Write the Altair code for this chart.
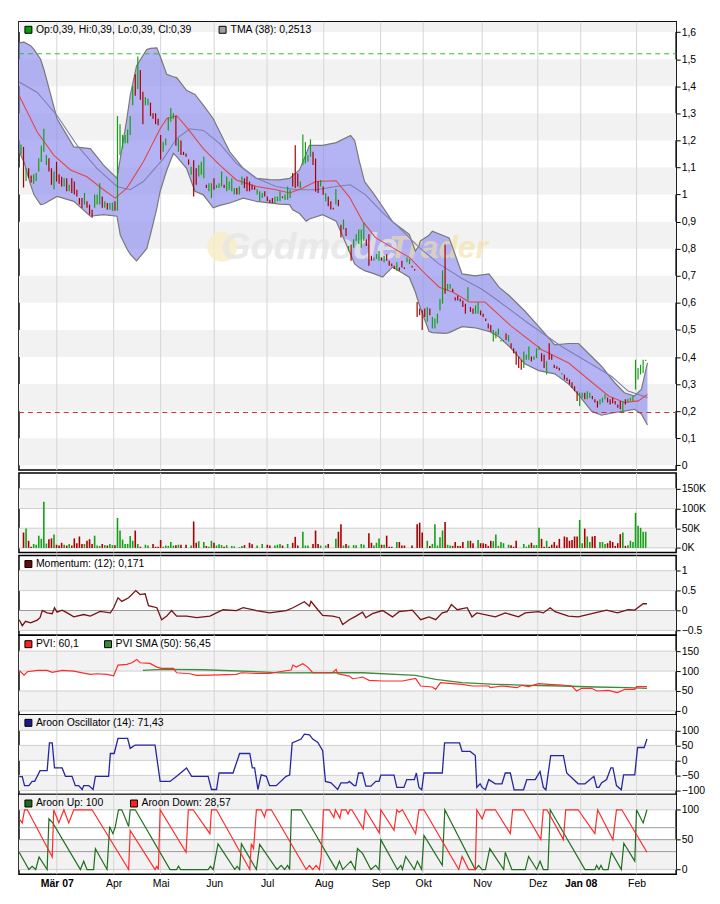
import altair as alt
import pandas as pd

# ---------------- data ----------------
MONTH_IDX = [14.1, 36.5, 55.0, 76.1, 96.9, 119.2, 141.6, 158.4, 181.6, 203.5, 220.4, 242.4]
MONTH_LBL = ["Mär 07", "Apr", "Mai", "Jun", "Jul", "Aug", "Sep", "Okt", "Nov", "Dez", "Jan 08", "Feb"]

LO = [
    1.150, 1.026, 1.050, 1.060, 1.045, 1.040, 1.050, 1.085, 1.120, 1.158,
    1.109, 1.085, 1.036, 1.020, 1.048, 1.040, 1.030, 1.030, 1.012, 1.012,
    1.006, 1.000, 0.993, 0.963, 0.950, 0.963, 0.951, 0.926, 0.914, 0.951,
    0.963, 0.963, 0.951, 0.951, 0.944, 0.944, 0.940, 0.940, 0.940, 1.146,
    1.170, 1.190, 1.190, 1.220, 1.330, 1.365, 1.390, 1.350, 1.260, 1.330,
    1.330, 1.290, 1.280, 1.260, 1.256, 1.130, 1.158, 1.182, 1.237, 1.270,
    1.280, 1.180, 1.158, 1.146, 1.146, 1.140, 1.110, 1.073, 0.993, 1.036,
    1.067, 1.073, 1.060, 1.024, 1.012, 0.987, 1.018, 1.024, 1.024, 1.030,
    1.024, 1.012, 1.018, 1.012, 1.000, 1.000, 1.000, 1.036, 1.024, 1.012,
    1.012, 1.018, 1.018, 1.000, 0.975, 0.987, 0.993, 0.975, 0.969, 0.969,
    0.969, 0.975, 0.975, 0.987, 0.980, 0.981, 0.987, 1.030, 1.024, 1.030,
    1.024, 1.109, 1.115, 1.121, 1.140, 1.109, 1.011, 1.006, 1.030, 0.999,
    0.975, 0.957, 0.945, 0.945, 0.963, 0.957, 0.841, 0.871, 0.847, 0.792,
    0.756, 0.804, 0.829, 0.817, 0.804, 0.829, 0.810, 0.737, 0.756, 0.756,
    0.762, 0.756, 0.756, 0.750, 0.756, 0.737, 0.735, 0.725, 0.719, 0.719,
    0.731, 0.725, 0.750, 0.743, 0.731, 0.719, 0.548, 0.554, 0.500, 0.548,
    0.530, 0.554, 0.505, 0.505, 0.524, 0.572, 0.597, 0.634, 0.646, 0.652,
    0.640, 0.609, 0.609, 0.605, 0.585, 0.560, 0.609, 0.567, 0.560, 0.560,
    0.560, 0.554, 0.548, 0.533, 0.505, 0.493, 0.457, 0.469, 0.481, 0.457,
    0.457, 0.463, 0.457, 0.432, 0.414, 0.371, 0.359, 0.353, 0.359, 0.390,
    0.390, 0.384, 0.390, 0.396, 0.426, 0.384, 0.359, 0.335, 0.390, 0.390,
    0.359, 0.356, 0.350, 0.335, 0.317, 0.311, 0.298, 0.286, 0.274, 0.238,
    0.219, 0.250, 0.244, 0.244, 0.250, 0.244, 0.232, 0.213, 0.225, 0.232,
    0.244, 0.232, 0.225, 0.229, 0.225, 0.213, 0.207, 0.195, 0.225, 0.232,
    0.238, 0.238, 0.280, 0.317, 0.335, 0.341, 0.385]

HI = [
    1.185, 1.176, 1.097, 1.097, 1.070, 1.075, 1.080, 1.134, 1.180, 1.243,
    1.146, 1.134, 1.097, 1.085, 1.121, 1.075, 1.066, 1.060, 1.060, 1.036,
    1.060, 1.048, 1.018, 0.987, 0.987, 1.006, 0.975, 0.963, 0.944, 1.000,
    1.000, 1.042, 0.993, 0.975, 0.969, 0.969, 0.970, 0.975, 1.290, 1.260,
    1.220, 1.220, 1.240, 1.290, 1.400, 1.444, 1.510, 1.460, 1.380, 1.360,
    1.355, 1.340, 1.300, 1.300, 1.280, 1.220, 1.195, 1.207, 1.285, 1.320,
    1.300, 1.290, 1.207, 1.200, 1.158, 1.152, 1.130, 1.103, 1.127, 1.097,
    1.109, 1.121, 1.140, 1.036, 1.042, 1.042, 1.060, 1.036, 1.042, 1.085,
    1.036, 1.067, 1.048, 1.060, 1.024, 1.024, 1.030, 1.067, 1.060, 1.067,
    1.048, 1.036, 1.030, 1.020, 1.012, 1.006, 1.012, 0.993, 0.981, 0.987,
    0.993, 0.993, 1.012, 0.993, 1.000, 1.030, 1.018, 1.080, 1.182, 1.078,
    1.048, 1.222, 1.194, 1.146, 1.204, 1.158, 1.133, 1.048, 1.054, 1.030,
    1.005, 0.993, 0.975, 0.951, 1.021, 0.981, 0.889, 0.908, 0.877, 0.810,
    0.816, 0.835, 0.853, 0.871, 0.871, 0.896, 0.835, 0.853, 0.774, 0.768,
    0.780, 0.792, 0.768, 0.774, 0.780, 0.756, 0.745, 0.737, 0.750, 0.731,
    0.756, 0.731, 0.768, 0.762, 0.737, 0.725, 0.603, 0.579, 0.573, 0.579,
    0.585, 0.579, 0.548, 0.542, 0.560, 0.615, 0.720, 0.816, 0.670, 0.670,
    0.652, 0.621, 0.627, 0.615, 0.609, 0.597, 0.658, 0.585, 0.579, 0.591,
    0.603, 0.572, 0.560, 0.542, 0.524, 0.518, 0.500, 0.493, 0.505, 0.463,
    0.463, 0.487, 0.481, 0.451, 0.432, 0.420, 0.402, 0.390, 0.420, 0.408,
    0.439, 0.402, 0.402, 0.432, 0.439, 0.414, 0.408, 0.384, 0.451, 0.408,
    0.371, 0.366, 0.360, 0.341, 0.335, 0.323, 0.317, 0.307, 0.292, 0.274,
    0.268, 0.268, 0.268, 0.274, 0.268, 0.256, 0.244, 0.238, 0.244, 0.250,
    0.262, 0.250, 0.244, 0.250, 0.238, 0.225, 0.238, 0.238, 0.244, 0.246,
    0.250, 0.256, 0.390, 0.359, 0.371, 0.390, 0.390]

DIR = "".join([
    "ududduuuuu", "uddudddudu", "dddddudddu", "uududuuduu", "uuuuududdu",
    "uddddduuuu", "ududdddudd", "uuuduuduuu", "duuuuduudd", "ddduuudddd",
    "uuuduuuddd", "uuuuudddud", "uddduddudu", "duuuuudddu", "uududdddud",
    "dduudddddd", "uduuuuuduu", "dddddduddu", "uddddduuuu", "ududdddduu",
    "uduuuddudd", "dddudddddd", "uuduuddduu", "uddddddudu", "uuuuuuu"])

VOL = [
    0, 39, 49, 18, 3, 10, 8, 31, 23, 117,
    11, 22, 24, 34, 8, 6, 13, 8, 6, 10,
    6, 24, 12, 29, 10, 10, 18, 22, 10, 31,
    6, 5, 10, 7, 6, 10, 7, 7, 76, 44,
    21, 10, 10, 30, 18, 44, 10, 3, 0, 8,
    6, 0, 10, 3, 3, 20, 3, 6, 5, 15,
    6, 7, 8, 8, 0, 8, 0, 6, 67, 13,
    17, 0, 15, 5, 3, 18, 13, 6, 9, 7,
    3, 7, 0, 5, 4, 0, 2, 5, 7, 0,
    13, 9, 0, 6, 0, 10, 0, 8, 6, 0,
    6, 8, 10, 6, 0, 10, 0, 13, 28, 6,
    0, 41, 6, 6, 0, 10, 44, 10, 6, 0,
    6, 10, 0, 0, 23, 41, 60, 6, 10, 6,
    0, 7, 7, 0, 10, 8, 0, 37, 13, 6,
    13, 24, 8, 8, 31, 3, 3, 0, 15, 15,
    6, 6, 0, 0, 6, 0, 60, 64, 39, 0,
    18, 5, 10, 60, 6, 27, 44, 66, 8, 6,
    5, 15, 5, 5, 15, 0, 18, 18, 12, 0,
    20, 12, 12, 10, 5, 18, 17, 34, 5, 15,
    12, 0, 8, 7, 3, 18, 0, 0, 10, 3,
    8, 13, 7, 7, 51, 23, 3, 18, 3, 8,
    15, 6, 23, 0, 29, 27, 18, 20, 29, 29,
    71, 12, 49, 29, 15, 29, 30, 0, 15, 15,
    10, 12, 18, 15, 5, 12, 35, 39, 5, 7,
    18, 15, 89, 56, 51, 41, 41]

BAND_IDX = [-0.8, 1.2, 3.8, 5.1, 7.7, 9.0, 14.2, 20.8, 27.3, 32.5, 37.8, 39.1, 41.7, 43.0, 45.5,
            49.5, 51.0, 53.5, 54.8, 57.4, 60.0, 61.3, 65.2, 68.5, 71.8, 75.7, 78.3, 82.2, 87.5,
            92.7, 97.9, 101.8, 105.8, 107.0, 109.7, 112.3, 113.6, 118.8, 124.1, 129.8, 131.4,
            133.3, 135.3, 139.2, 142.4, 146.3, 150.2, 152.9, 155.3, 156.7, 157.3, 160.7, 162.0,
            167.2, 168.6, 173.7, 178.8, 184.3, 188.2, 192.2, 198.4, 203.9, 210.2, 215.7, 219.6,
            224.7, 228.6, 233.8, 237.6, 241.6, 244.3, 246.7]
BAND_UP = [1.56, 1.563, 1.55, 1.536, 1.50, 1.463, 1.28, 1.176, 1.17, 1.109, 1.06, 1.133, 1.28,
           1.365, 1.475, 1.536, 1.54, 1.542, 1.511, 1.444, 1.435, 1.432, 1.385, 1.37, 1.33, 1.28,
           1.231, 1.158, 1.097, 1.06, 1.055, 1.054, 1.06, 1.07, 1.091, 1.15, 1.182, 1.182, 1.192,
           1.218, 1.2, 1.121, 1.048, 0.999, 0.955, 0.90, 0.872, 0.853, 0.792, 0.81, 0.829, 0.85,
           0.865, 0.845, 0.84, 0.707, 0.70, 0.707, 0.658, 0.627, 0.57, 0.512, 0.445, 0.45, 0.45,
           0.402, 0.366, 0.305, 0.268, 0.256, 0.28, 0.378]
BAND_LO = [1.16, 1.12, 1.036, 1.0, 0.963, 0.965, 0.993, 0.975, 0.92, 0.926, 0.92, 0.85, 0.80,
           0.78, 0.755, 0.80, 0.853, 0.95, 1.012, 1.09, 1.152, 1.14, 1.097, 1.012, 0.999, 0.951,
           0.96, 0.969, 0.987, 0.975, 0.969, 0.965, 0.963, 0.944, 0.93, 0.902, 0.91, 0.926, 0.902,
           0.78, 0.744, 0.73, 0.719, 0.707, 0.695, 0.732, 0.71, 0.695, 0.64, 0.597, 0.58, 0.494,
           0.49, 0.487, 0.49, 0.512, 0.508, 0.495, 0.475, 0.44, 0.375, 0.35, 0.338, 0.30, 0.26,
           0.20, 0.185, 0.195, 0.20, 0.207, 0.19, 0.149]

TMA = [(-0.7, 1.416), (6.4, 1.377), (14.2, 1.292), (22.1, 1.182), (29.9, 1.097), (37.8, 1.03),
       (43.0, 1.018), (48.2, 1.048), (56.1, 1.133), (61.3, 1.207), (66.5, 1.243), (71.8, 1.237),
       (78.3, 1.188), (84.8, 1.115), (92.7, 1.06), (100.5, 1.03), (108.4, 1.018), (116.2, 1.018),
       (124.1, 1.03), (129.8, 1.036), (135.7, 0.999), (142.4, 0.933), (149.0, 0.877),
       (156.9, 0.804), (164.7, 0.743), (173.7, 0.69), (181.5, 0.65), (186.8, 0.615),
       (199.9, 0.524), (212.9, 0.439), (226.0, 0.366), (232.5, 0.329), (239.1, 0.274),
       (246.7, 0.25)]

MA = [(-0.7, 1.365), (6.4, 1.231), (12.9, 1.146), (19.5, 1.091), (26.0, 1.066), (32.5, 1.018),
      (37.1, 0.987), (41.7, 1.024), (48.2, 1.121), (54.8, 1.243), (57.4, 1.28), (61.3, 1.292),
      (65.2, 1.249), (71.8, 1.17), (78.3, 1.109), (84.8, 1.054), (92.7, 1.03), (100.5, 1.018),
      (105.8, 1.006), (111.0, 1.024), (116.2, 1.048), (124.1, 1.051), (129.4, 0.99),
      (134.5, 0.902), (139.6, 0.841), (146.3, 0.804), (152.9, 0.768), (159.2, 0.707),
      (164.7, 0.658), (170.0, 0.64), (176.5, 0.603), (182.7, 0.603), (193.3, 0.512),
      (205.1, 0.427), (215.7, 0.378), (223.5, 0.317), (231.4, 0.256), (237.6, 0.232),
      (243.1, 0.238), (246.7, 0.262)]

MOM = [(-0.7, -0.23), (0.5, -0.38), (1.8, -0.27), (3.8, -0.31), (6.4, -0.24), (7.5, -0.18),
       (8.4, 0.0), (10.3, -0.06), (12.3, -0.08), (13.2, 0.07), (14.2, -0.04), (16.2, 0.01),
       (18.2, -0.06), (20.8, -0.16), (24.7, -0.1), (27.3, -0.14), (31.2, -0.02), (35.2, -0.06),
       (36.5, 0.07), (38.2, 0.32), (39.7, 0.23), (42.4, 0.32), (45.2, 0.5), (46.9, 0.4),
       (48.9, 0.42), (50.2, 0.12), (53.5, 0.07), (55.4, -0.23), (57.4, -0.14), (59.3, 0.0),
       (61.3, -0.14), (65.2, -0.14), (69.2, -0.18), (74.4, -0.14), (79.6, 0.02), (84.8, 0.0),
       (87.5, 0.07), (92.7, 0.0), (97.9, -0.06), (104.4, 0.0), (107.1, 0.07), (111.6, 0.22),
       (113.6, 0.11), (114.2, 0.23), (116.9, 0.02), (118.8, -0.12), (122.7, -0.14),
       (125.4, -0.18), (126.7, -0.35), (129.3, -0.23), (131.9, -0.14), (134.5, -0.04),
       (135.8, -0.18), (138.4, -0.08), (142.4, 0.0), (146.3, -0.16), (148.9, -0.03),
       (154.1, 0.01), (157.4, -0.23), (160.7, -0.16), (163.3, -0.23), (165.9, -0.06),
       (167.8, -0.03), (169.5, 0.15), (171.8, 0.02), (175.7, 0.07), (177.6, -0.16),
       (179.5, -0.06), (186.8, -0.16), (190.7, -0.06), (195.9, -0.16), (198.6, -0.06),
       (203.8, -0.03), (205.7, -0.06), (208.4, 0.07), (210.3, -0.03), (215.6, -0.14),
       (219.4, -0.16), (226.0, -0.06), (230.6, 0.01), (234.9, -0.06), (239.1, 0.02),
       (241.7, 0.01), (245.0, 0.17), (246.5, 0.17)]

PVI = [(-0.7, 101.7), (1.2, 90), (2.5, 98.3), (6.4, 101.7), (10.3, 101.7), (12.3, 96.7),
       (16.2, 101.7), (20.8, 100), (24.7, 95), (27.3, 91.7), (29.9, 93.3), (33.9, 91.7),
       (36.5, 88.3), (38.2, 115), (41.7, 116.7), (43.7, 120.8), (45.6, 129.2), (46.9, 120.8),
       (50.8, 119.2), (53.5, 110), (55.4, 106.7), (60.0, 106.7), (61.3, 95.8), (66.5, 93.3),
       (69.2, 89.2), (74.4, 90), (84.8, 91.7), (86.8, 95.8), (92.7, 94.2), (97.9, 94.2),
       (101.8, 98.3), (106.4, 102.5), (107.1, 115), (108.4, 110), (111.0, 118.3), (112.9, 110),
       (114.9, 95.8), (122.7, 95.8), (124.1, 104.2), (124.7, 93.3), (129.3, 87.5),
       (130.6, 80.8), (133.2, 83.3), (134.5, 85), (137.1, 76.7), (142.4, 75), (150.2, 75),
       (155.4, 81.7), (157.4, 62.5), (162.0, 60), (163.3, 54.2), (165.2, 70.8), (169.8, 68.3),
       (173.7, 66.7), (177.6, 62.5), (184.2, 62.5), (184.8, 58.3), (189.4, 62.5),
       (195.3, 58.3), (197.3, 64.2), (199.9, 60.8), (203.8, 68.3), (207.8, 66.7), (213.0, 65),
       (216.9, 62.5), (218.8, 50), (220.8, 56.7), (224.7, 56.7), (226.7, 50), (231.2, 51.7),
       (234.9, 45.8), (237.8, 54.2), (241.7, 54.2), (242.4, 60.8), (246.5, 60.8)]

PVI_SMA = [(48.0, 101.7), (56.1, 104.2), (71.8, 103.3), (96.6, 97.5), (101.8, 95.5),
           (124.1, 95.8), (134.5, 95.8), (155.4, 89.2), (163.3, 79.2), (173.7, 70.8),
           (186.8, 66.7), (199.9, 64.2), (213.0, 62.5), (226.0, 60), (239.1, 58.3), (246.5, 56.7)]

OSC = [(-0.7, -54), (0.5, -54), (1.4, -84), (3.1, -84), (4.4, -70), (5.4, -70), (6.4, -53),
       (7.5, -34), (10.3, -34), (11.2, 58), (12.3, 58), (13.2, -25), (16.2, -25), (17.5, -53),
       (20.1, -53), (21.4, -84), (22.7, -84), (24.1, -97), (24.7, -84), (26.7, -84),
       (28.4, -97), (29.3, -53), (34.5, -53), (35.2, 23), (36.7, 23), (38.2, 73), (42.0, 73),
       (43.0, 40), (45.0, 51), (52.8, 51), (54.8, -70), (58.7, -70), (61.3, -53), (65.2, -25),
       (67.2, -53), (73.7, -53), (75.0, -97), (77.0, -97), (78.0, -42), (83.5, -42), (86.1, 23),
       (90.1, 23), (91.1, -25), (92.0, -25), (93.3, -97), (94.6, -48), (96.6, -53), (97.9, -84),
       (100.5, -84), (104.4, -53), (105.8, -49), (106.8, 58), (110.3, 71), (111.6, 87.5),
       (113.6, 85), (114.9, 71), (116.9, 60), (118.8, 32), (119.9, -70), (122.1, -75),
       (124.7, -97), (126.0, -75), (128.6, -75), (129.3, -70), (131.2, -84), (131.9, -84),
       (132.9, -42), (134.5, -42), (135.8, -86), (137.8, -86), (139.7, -70), (141.0, -70),
       (141.7, -49), (146.9, -49), (148.0, -90), (150.8, -90), (151.9, -64), (154.9, -64),
       (155.7, -42), (156.7, -90), (157.8, -98), (158.7, -42), (165.9, -42), (166.8, 58),
       (172.7, 58), (173.7, 30), (176.9, 30), (178.9, 16), (179.5, -90), (180.8, -78),
       (181.6, -90), (182.9, -98), (184.2, -64), (186.8, -78), (189.4, -78), (190.7, -42),
       (192.7, -42), (194.2, -98), (197.9, -98), (199.2, -64), (202.5, -64), (204.4, -37),
       (205.7, -90), (206.7, -98), (208.6, 16), (213.6, 16), (214.9, -42), (219.4, -78),
       (222.1, -78), (225.6, -53), (226.7, -90), (227.6, -90), (228.6, -75), (230.6, -64),
       (232.3, -25), (233.1, -25), (234.5, -84), (236.4, -98), (237.3, -48), (241.7, -48),
       (242.8, 43), (245.4, 43), (246.5, 71)]

AR_UP = [(-0.7, 29), (3.1, 0), (4.4, 5.5), (5.8, 0), (7.1, 21), (10.3, 0), (11.0, 85), (12.5, 78),
         (23.4, 0), (24.7, 14), (26.0, 0), (28.6, 0), (29.3, 35), (33.9, 0), (34.9, 72), (36.2, 60),
         (37.1, 71), (38.4, 100), (39.7, 100), (42.4, 72), (43.0, 100), (45.0, 100), (58.7, 0),
         (61.3, 0), (62.0, 5.5), (62.9, 0), (73.7, 0), (74.6, 5.5), (75.7, 0), (77.6, 43),
         (84.2, 0), (85.1, 5.5), (86.1, 0), (86.8, 43), (92.7, 0), (94.0, 42), (100.8, 0),
         (102.5, 7), (103.8, 0), (105.0, 7), (105.8, 0), (106.5, 100), (110.3, 100), (124.1, 0),
         (125.4, 14), (126.7, 0), (129.9, 14), (131.6, 0), (132.5, 35), (134.5, 27), (137.8, 0),
         (139.7, 7), (141.0, 0), (141.7, 50), (148.2, 0), (149.6, 7), (150.2, 0), (151.5, 22),
         (154.9, 0), (156.1, 14), (157.8, 0), (158.7, 57), (165.9, 7), (166.9, 100), (178.9, 0),
         (180.2, 7), (181.6, 0), (182.9, 0), (184.6, 35), (190.1, 0), (190.7, 29), (193.3, 0),
         (198.6, 0), (199.9, 22), (203.1, 0), (204.4, 14), (205.7, 0), (207.5, 0), (208.4, 100),
         (222.1, 0), (226.0, 0), (226.7, 7), (227.6, 0), (228.4, 7), (229.2, 0), (231.2, 0),
         (232.5, 29), (236.4, 0), (237.4, 44), (241.7, 14), (242.4, 100), (245.0, 78), (246.5, 100)]

AR_DN = [(-0.7, 85), (0.5, 78), (1.4, 100), (2.5, 100), (12.3, 21), (12.9, 100), (14.9, 78),
         (16.9, 100), (18.8, 78), (20.8, 100), (28.0, 100), (42.4, 0), (43.0, 65.5), (52.8, 0),
         (53.5, 5.5), (54.1, 0), (54.8, 100), (65.0, 29), (65.9, 100), (67.8, 100), (74.4, 60),
         (75.0, 100), (77.0, 100), (90.1, 0), (90.7, 43), (91.6, 35), (92.7, 100), (94.6, 100),
         (95.9, 88), (96.6, 100), (98.6, 100), (112.3, 0), (113.6, 7), (114.9, 0), (116.2, 7),
         (117.5, 0), (118.2, 21), (119.1, 100), (121.4, 100), (123.2, 87), (123.8, 100),
         (125.6, 86), (126.2, 100), (128.0, 100), (128.8, 93), (129.5, 100), (130.3, 100),
         (134.8, 68), (135.6, 100), (141.1, 61), (141.7, 100), (146.9, 65.5), (148.0, 100),
         (148.9, 96), (150.2, 100), (155.4, 60), (156.7, 100), (158.7, 100), (172.4, 0),
         (173.7, 22), (176.3, 0), (178.9, 0), (179.5, 100), (181.6, 85), (182.9, 100),
         (186.8, 100), (192.7, 60), (193.6, 100), (197.9, 100), (204.7, 50), (205.7, 100),
         (207.1, 100), (213.6, 50), (214.5, 100), (219.4, 100), (226.0, 60), (227.1, 100),
         (233.1, 50), (234.5, 100), (236.6, 100), (246.5, 29)]

# ---------------- styling / helpers ----------------
W = 660
XDOM = [-0.8, 258.0]
FONT = "Liberation Sans"
GREEN = "#14a014"
RED = "#a80000"
GRAY_BAND = "#f2f2f2"

bars = pd.DataFrame({"idx": list(range(len(LO))), "lo": LO, "hi": HI,
                     "dir": list(DIR[:len(LO)]), "vol": VOL, "zero": 0})
vol_df = bars[bars["vol"] > 0]
month_df = pd.DataFrame({"idx": MONTH_IDX})
band_df = pd.DataFrame({"idx": BAND_IDX, "up": BAND_UP, "lo": BAND_LO})
ONE = pd.DataFrame({"a": [0]})

LBL_EXPR = " : ".join(f"datum.value == {v} ? '{t}'" for v, t in zip(MONTH_IDX, MONTH_LBL)) + " : ''"


def xq(bottom=False):
    scale = alt.Scale(domain=XDOM, nice=False, zero=False)
    if bottom:
        ax = alt.Axis(values=MONTH_IDX, labelExpr=LBL_EXPR, ticks=False, domain=False, grid=False,
                      labelFont=FONT, labelFontSize=10.5, labelColor="#000000", labelPadding=4,
                      labelAngle=0, labelOverlap=False, labelFlush=False,
                      labelFontWeight={"condition": {"test": "datum.value == 14.1 || datum.value == 220.4",
                                                     "value": "bold"}, "value": "normal"})
        return alt.X("idx:Q", scale=scale, axis=ax, title=None)
    return alt.X("idx:Q", scale=scale, axis=None, title=None)


def make_y(dom, vals, expr):
    def Y(field):
        return alt.Y(f"{field}:Q", scale=alt.Scale(domain=dom, nice=False, zero=False),
                     axis=alt.Axis(orient="right", values=vals, labelExpr=expr, tickSize=4,
                                   tickColor="#000000", tickWidth=1, domain=False, grid=False,
                                   labelFont=FONT, labelFontSize=10.5, labelColor="#000000",
                                   labelPadding=1, labelAlign="left", labelBaseline="middle",
                                   labelOverlap=False, labelFlush=False),
                     title=None)
    return Y


def swatch(x0, y0, color):
    return alt.Chart(ONE).mark_rect(fill=color, stroke="#000000", strokeWidth=1).encode(
        x=alt.value(x0), x2=alt.value(x0 + 7), y=alt.value(y0), y2=alt.value(y0 + 7))


def label(x0, yc, txt):
    return alt.Chart(ONE).mark_text(align="left", baseline="middle", font=FONT, fontSize=10.5,
                                    color="#000000").encode(
        x=alt.value(x0), y=alt.value(yc), text=alt.value(txt))


def base_layers(h, Y, grays, light, dark, bottom=False):
    gdf = pd.DataFrame({"b0": [g[0] for g in grays], "b1": [g[1] for g in grays]})
    out = [
        alt.Chart(gdf).mark_rect(color=GRAY_BAND, clip=True).encode(
            x=alt.value(0), x2=alt.value(W), y=Y("b0"), y2=alt.Y2("b1")),
        alt.Chart(month_df).mark_rule(color="#d6d6d6", strokeWidth=1).encode(
            x=xq(bottom), y=alt.value(0), y2=alt.value(h)),
    ]
    if light:
        out.append(alt.Chart(pd.DataFrame({"v": light})).mark_rule(color="#cfcfcf", strokeWidth=1).encode(
            y=Y("v"), x=alt.value(0), x2=alt.value(W)))
    if dark:
        out.append(alt.Chart(pd.DataFrame({"v": dark})).mark_rule(color="#9a9a9a", strokeWidth=1).encode(
            y=Y("v"), x=alt.value(0), x2=alt.value(W)))
    return out


def line(pairs, Y, color, width=1.2, bottom=False):
    df = pd.DataFrame(pairs, columns=["idx", "v"])
    return alt.Chart(df).mark_line(color=color, strokeWidth=width).encode(x=xq(bottom), y=Y("v"))


# ---------------- main price panel ----------------
H_MAIN = 450
Ym = make_y([-0.017, 1.638], [0, 0.1, 0.2, 0.3, 0.4, 0.5, 0.6, 0.7, 0.8, 0.9, 1.0, 1.1, 1.2, 1.3, 1.4, 1.5, 1.6],
            "replace(format(datum.value, '.1~f'), '.', ',')")
main_grays = [(0, 0.1), (0.2, 0.3), (0.4, 0.5), (0.6, 0.7), (0.8, 0.9), (1.0, 1.1), (1.2, 1.3),
              (1.4, 1.5), (1.6, 1.638)]
X = xq()
main = alt.layer(
    *base_layers(H_MAIN, Ym, main_grays, [], []),
    alt.Chart(band_df).mark_area(color="#8c8cf0", opacity=0.65).encode(x=X, y=Ym("up"), y2=alt.Y2("lo")),
    alt.Chart(ONE).mark_circle(color="#f6ecc2", opacity=0.8, size=900).encode(
        x=alt.value(204), y=alt.value(226)),
    alt.Chart(ONE).mark_text(align="left", baseline="middle", font=FONT, fontSize=38, fontStyle="italic",
                             fontWeight="bold", color="#e6e6e6", opacity=0.8).encode(
        x=alt.value(203), y=alt.value(227), text=alt.value("Godmode")),
    alt.Chart(ONE).mark_text(align="left", baseline="middle", font=FONT, fontSize=32, fontStyle="italic",
                             fontWeight="bold", color="#f3e2a0", opacity=0.6).encode(
        x=alt.value(372), y=alt.value(227), text=alt.value("Trader")),
    alt.Chart(band_df).mark_line(color="#787878", strokeWidth=1.2).encode(x=X, y=Ym("up")),
    alt.Chart(band_df).mark_line(color="#787878", strokeWidth=1.2).encode(x=X, y=Ym("lo")),
    alt.Chart(pd.DataFrame({"v": [1.52]})).mark_rule(color="#33bb33", strokeDash=[5, 4], strokeWidth=1).encode(
        y=Ym("v"), x=alt.value(0), x2=alt.value(W)),
    alt.Chart(pd.DataFrame({"v": [0.195]})).mark_rule(color="#cc3030", strokeDash=[5, 4], strokeWidth=1).encode(
        y=Ym("v"), x=alt.value(0), x2=alt.value(W)),
    line(TMA, Ym, "#7f7fb4", 1.1),
    line(MA, Ym, "#e04848", 1.1),
    alt.Chart(bars).mark_rule(strokeWidth=1.2).encode(
        x=X, y=Ym("lo"), y2=alt.Y2("hi"),
        color=alt.Color("dir:N", scale=alt.Scale(domain=["u", "d"], range=[GREEN, RED]), legend=None)),
    swatch(6, 4.5, "#00a000"),
    label(17, 8.5, "Op:0,39, Hi:0,39, Lo:0,39, Cl:0,39"),
    swatch(201, 4.5, "#a0a0a0"),
    label(212.5, 8.5, "TMA (38): 0,2513"),
).properties(width=W, height=H_MAIN)

# ---------------- volume ----------------
H = 80
Yv = make_y([-11.9, 190.4], [0, 50, 100, 150], "format(datum.value, 'd') + 'K'")
vol = alt.layer(
    *base_layers(H, Yv, [(0, 50), (100, 150)], [0, 50, 100, 150], []),
    alt.Chart(vol_df).mark_rule(strokeWidth=1.6).encode(
        x=X, y=Yv("vol"), y2=alt.Y2("zero"),
        color=alt.Color("dir:N", scale=alt.Scale(domain=["u", "d"], range=["#22b022", "#b01818"]), legend=None)),
).properties(width=W, height=H)

# ---------------- momentum ----------------
Ymo = make_y([-0.62, 1.38], [-0.5, 0, 0.5, 1], "format(datum.value, '~g')")
mom = alt.layer(
    *base_layers(H, Ymo, [(-0.5, 0), (0.5, 1)], [-0.5, 0.5, 1], [0]),
    line(MOM, Ymo, "#741414", 1.3),
    swatch(6, 5, "#6a0a0a"),
    label(17, 8.5, "Momentum: (12): 0,171"),
).properties(width=W, height=H)

# ---------------- PVI ----------------
Yp = make_y([-10, 190], [0, 50, 100, 150], "format(datum.value, 'd')")
pvi = alt.layer(
    *base_layers(H, Yp, [(0, 50), (100, 150)], [0, 50, 100, 150], []),
    line(PVI_SMA, Yp, "#3c8c3c", 1.3),
    line(PVI, Yp, "#ff2a2a", 1.2),
    swatch(6, 5.5, "#ff2020"),
    label(17, 9, "PVI: 60,1"),
    swatch(86, 5.5, "#3a8a3a"),
    label(97, 9, "PVI SMA (50): 56,45"),
).properties(width=W, height=H)

# ---------------- Aroon oscillator ----------------
Yo = make_y([-113.8, 151.6], [-100, -50, 0, 50, 100], "format(datum.value, 'd')")
osc = alt.layer(
    *base_layers(H, Yo, [(-100, -50), (0, 50), (100, 151.6)], [-100, -50, 0, 50, 100], []),
    line(OSC, Yo, "#2626a0", 1.3),
    swatch(6, 4.5, "#1a1a8c"),
    label(17, 8, "Aroon Oscillator (14): 71,43"),
).properties(width=W, height=H)

# ---------------- Aroon up / down ----------------
Ya = make_y([-7.8, 125.5], [0, 50, 100], "format(datum.value, 'd')")
aroon = alt.layer(
    *base_layers(H, Ya, [(0, 50), (100, 125.5)], [0, 100], [30, 50, 70], bottom=True),
    line(AR_UP, Ya, "#1f6f1f", 1.2, bottom=True),
    line(AR_DN, Ya, "#ff2a2a", 1.2, bottom=True),
    swatch(6, 5.5, "#1c6b1c"),
    label(17, 9, "Aroon Up: 100"),
    swatch(112, 5.5, "#ff2020"),
    label(123, 9, "Aroon Down: 28,57"),
).properties(width=W, height=H)

lower = alt.vconcat(mom, pvi, osc, aroon, spacing=0, bounds="flush")
chart = alt.vconcat(main, vol, lower, spacing=3, bounds="flush").configure_view(
    stroke="#000000", strokeWidth=1.5
).properties(padding={"left": 7, "top": 10, "right": 5, "bottom": 5}, background="white")

chart.save("out.html", embed_options={"renderer": "svg", "actions": False})
